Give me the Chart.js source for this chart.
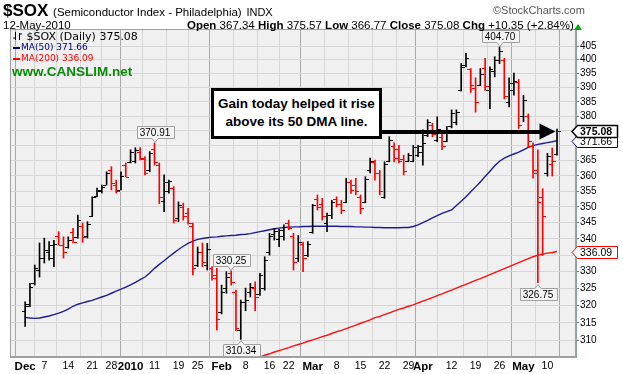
<!DOCTYPE html>
<html>
<head>
<meta charset="utf-8">
<title>$SOX daily</title>
<script src="https://cdn.jsdelivr.net/npm/chart.js@4.4.1/dist/chart.umd.min.js"></script>
<style>
  body { margin: 0; background: #fff; }
  #wrap { position: relative; width: 623px; height: 374px; overflow: hidden; font-family: "Liberation Sans", Arial, sans-serif; color: #000; }
  #chart { position: absolute; left: 0; top: 0; }
  .lbl { position: absolute; white-space: nowrap; line-height: 1; }
  #sym { left: 3px; top: 2px; font-size: 17px; font-weight: bold; }
  #sym .sub { font-size: 11.5px; font-weight: normal; }
  #copy { left: 493px; top: 5px; font-size: 11px; color: #555; }
  #date { left: 3px; top: 20px; font-size: 11.5px; }
  #quote { left: 187px; top: 20px; font-size: 11.5px; }
  #up { position: absolute; left: 574px; top: 24px; width: 0; height: 0; border-left: 4px solid transparent; border-right: 4px solid transparent; border-bottom: 6px solid #00b000; }
  .leg { left: 13px; font-family: "DejaVu Sans", Verdana, sans-serif; font-size: 9px; }
  .dash { display: inline-block; width: 7px; height: 2px; vertical-align: middle; margin-right: 1px; }
  #site { left: 12px; top: 65px; font-size: 13.5px; font-weight: bold; color: #0a8a0a; }
  #note { position: absolute; left: 211px; top: 88px; width: 165px; height: 45px; border: 3px solid #000; background: #fff;
          font-weight: bold; font-size: 13.5px; text-align: center; line-height: 18px; padding-top: 0; box-sizing: content-box; }
  #note div { padding-top: 4px; }
</style>
</head>
<body>
<div id="wrap">
  <canvas id="chart" width="623" height="374"></canvas>
  <div class="lbl" id="sym">$SOX <span class="sub">(Semiconductor Index - Philadelphia)</span> <span class="sub" style="font-size:11px">INDX</span></div>
  <div class="lbl" id="copy">&copy;StockCharts.com</div>
  <div class="lbl" id="date">12-May-2010</div>
  <div class="lbl" id="quote"></div>
  <div id="up"></div>
  <div class="lbl leg" id="leg1" style="top:31px;font-size:11px"><svg width="10" height="10" style="vertical-align:-1px"><path d="M2.5 1v8M0 7h2.5M6.5 2v7M6.5 3h2.5" stroke="#000" fill="none"/></svg> <span id="leg1t"></span></div>
  <div class="lbl leg" id="leg2" style="top:43px;color:#000080"><span class="dash" style="background:#000080"></span><span id="leg2t"></span></div>
  <div class="lbl leg" id="leg3" style="top:54px;color:#ff0000"><span class="dash" style="background:#ff0000"></span><span id="leg3t"></span></div>
  <div class="lbl" id="site">www.CANSLIM.net</div>
  <div id="note"><div>Gain today helped it rise<br>above its 50 DMA line.</div></div>
</div>
<script>
// trading days shown on the chart
var dates = [
  '2009-12-01','2009-12-02','2009-12-03','2009-12-04','2009-12-07','2009-12-08','2009-12-09','2009-12-10','2009-12-11',
  '2009-12-14','2009-12-15','2009-12-16','2009-12-17','2009-12-18','2009-12-21','2009-12-22','2009-12-23','2009-12-24',
  '2009-12-28','2009-12-29','2009-12-30','2009-12-31',
  '2010-01-04','2010-01-05','2010-01-06','2010-01-07','2010-01-08','2010-01-11','2010-01-12','2010-01-13','2010-01-14',
  '2010-01-15','2010-01-19','2010-01-20','2010-01-21','2010-01-22','2010-01-25','2010-01-26','2010-01-27','2010-01-28','2010-01-29',
  '2010-02-01','2010-02-02','2010-02-03','2010-02-04','2010-02-05','2010-02-08','2010-02-09','2010-02-10','2010-02-11','2010-02-12',
  '2010-02-16','2010-02-17','2010-02-18','2010-02-19','2010-02-22','2010-02-23','2010-02-24','2010-02-25','2010-02-26',
  '2010-03-01','2010-03-02','2010-03-03','2010-03-04','2010-03-05','2010-03-08','2010-03-09','2010-03-10','2010-03-11','2010-03-12',
  '2010-03-15','2010-03-16','2010-03-17','2010-03-18','2010-03-19','2010-03-22','2010-03-23','2010-03-24','2010-03-25','2010-03-26',
  '2010-03-29','2010-03-30','2010-03-31',
  '2010-04-01','2010-04-05','2010-04-06','2010-04-07','2010-04-08','2010-04-09','2010-04-12','2010-04-13','2010-04-14','2010-04-15',
  '2010-04-16','2010-04-19','2010-04-20','2010-04-21','2010-04-22','2010-04-23','2010-04-26','2010-04-27','2010-04-28','2010-04-29',
  '2010-04-30','2010-05-03','2010-05-04','2010-05-05','2010-05-06','2010-05-07','2010-05-10','2010-05-11','2010-05-12'
]

var opens = [
  318.5,320.5,326.5,330.5,334.0,336.0,334.0,341.0,338.0,337.5,342.0,340.5,344.0,341.0,347.0,353.5,355.0,357.0,
  362.0,357.0,355.5,363.5,
  364.5,365.0,368.0,365.5,362.0,369.0,363.5,352.0,355.0,356.0,346.5,350.0,348.0,344.0,332.0,336.0,332.0,331.0,329.0,
  318.0,325.0,329.5,324.0,313.0,321.0,324.0,325.0,323.5,325.0,336.0,341.5,340.0,341.0,345.0,341.0,334.0,338.5,335.0,
  342.0,352.5,351.0,345.0,347.5,352.5,351.0,351.5,358.0,357.0,353.0,351.5,362.0,364.5,361.0,353.0,365.0,370.0,369.0,365.5,
  364.8,365.0,367.0,
  368.0,373.5,377.0,372.0,373.0,371.5,376.5,378.0,389.0,398.0,396.5,390.0,391.0,397.0,389.0,396.0,400.0,400.0,385.0,389.0,
  392.0,380.0,380.0,370.0,362.0,353.0,361.0,364.0,367.34
]
var highs = [
  321.1,326.5,332.0,338.7,340.2,339.1,339.5,342.2,340.6,340.6,343.2,347.4,344.9,345.3,353.2,356.0,357.0,361.3,
  363.0,358.6,361.3,364.2,
  368.6,369.3,369.3,366.3,368.0,370.91,364.2,360.3,358.6,356.5,351.6,351.2,349.5,344.9,337.5,338.7,338.6,331.5,331.0,
  326.0,330.0,330.25,324.5,321.6,325.1,326.5,327.0,329.5,334.5,341.7,343.2,342.9,344.3,345.8,341.7,341.0,339.0,339.1,
  350.8,353.8,352.7,348.0,352.1,353.2,352.1,359.2,358.6,359.2,353.8,359.7,365.8,365.2,361.8,364.6,373.0,370.9,370.1,366.8,
  367.4,370.1,370.1,
  375.3,378.8,377.6,379.8,374.2,376.5,382.2,382.2,398.6,402.3,396.8,393.5,396.8,400.5,397.4,401.1,404.70,400.5,393.5,395.2,
  392.9,387.3,380.8,370.9,368.6,355.8,367.4,369.2,375.57
]
var lows = [
  314.0,319.7,326.0,328.4,332.6,333.5,331.5,338.1,334.1,337.1,338.7,340.2,338.9,340.2,346.9,353.2,354.4,357.0,
  355.4,354.4,355.4,359.7,
  364.2,364.2,365.2,360.3,361.3,363.5,351.0,348.5,354.4,344.9,345.3,345.8,344.5,329.0,331.5,331.5,330.5,327.5,313.0,
  317.6,323.6,326.0,312.8,310.34,318.5,322.5,318.5,323.0,324.5,335.0,339.6,337.6,339.6,342.8,330.5,333.0,330.0,334.5,
  341.7,349.0,345.8,342.2,346.3,350.0,347.8,351.3,354.3,353.8,347.8,351.3,360.9,358.6,353.8,352.7,364.6,364.6,364.2,360.3,
  364.6,364.6,366.3,
  363.5,373.0,373.0,371.3,368.6,371.3,376.0,377.0,388.8,397.4,388.3,381.4,390.7,389.0,382.6,393.8,398.6,386.0,383.2,387.3,
  375.8,378.1,369.5,359.2,326.75,334.9,359.9,359.9,366.77
]
var closes = [
  320.0,325.5,331.0,334.0,336.5,338.0,338.5,338.2,336.0,339.5,339.0,346.0,340.5,344.5,353.0,355.5,356.5,361.0,
  357.5,355.0,360.0,359.7,
  368.0,368.5,366.0,361.0,367.5,364.5,353.0,358.0,358.2,346.0,350.5,347.0,345.0,331.0,336.0,333.0,337.0,328.0,316.0,
  324.0,328.5,327.0,313.5,321.0,321.5,325.5,322.5,329.0,333.5,341.0,342.5,342.7,343.5,343.2,333.0,339.0,334.0,338.5,
  350.5,350.0,347.0,347.5,351.5,351.0,349.0,358.0,355.5,355.0,349.5,359.0,365.0,361.0,355.0,364.0,372.0,366.0,365.0,361.5,
  367.0,369.5,369.8,
  371.0,378.0,374.0,375.5,370.0,375.0,381.0,381.5,397.5,400.5,391.0,385.0,395.0,390.5,396.5,400.0,403.0,387.0,391.5,392.5,
  377.0,385.5,371.5,361.0,351.5,347.0,366.5,364.73,375.08
]

// moving averages
var ma50 = [
  316.6,316.4,316.3,316.4,316.7,317.0,317.4,317.8,318.3,319.0,319.8,320.4,320.8,321.2,321.5,322.0,322.5,323.0,
  323.6,324.2,324.8,325.4,
  326.1,326.8,327.6,328.4,329.6,331.0,332.2,333.3,334.5,335.6,336.7,337.7,338.6,339.3,339.8,340.1,340.3,340.5,340.6,
  340.8,340.9,341.0,341.1,341.3,341.4,341.6,341.9,342.2,342.5,342.8,343.1,343.3,343.5,343.6,343.7,343.7,343.8,343.8,
  343.9,343.9,343.9,343.9,343.9,343.9,343.8,343.8,343.8,343.7,343.7,343.6,343.6,343.5,343.5,343.4,343.4,343.4,343.4,343.5,
  343.5,343.8,344.3,
  345.0,345.7,346.5,347.2,347.9,348.5,349.0,350.4,351.8,353.2,354.8,356.4,358.0,359.8,361.5,363.3,364.8,365.8,366.6,367.2,
  367.8,368.6,369.4,370.0,370.4,370.7,371.0,371.3,371.66
]
var ma200 = [
  null,null,null,null,null,null,null,null,null,null,null,null,null,null,null,null,null,null,
  null,null,null,null,
  null,null,null,null,null,null,null,null,null,null,null,null,null,null,null,null,null,null,null,
  null,null,null,null,null,304.2,304.6,305.0,305.4,305.9,306.3,306.8,307.2,307.6,308.0,308.5,308.9,309.3,309.8,
  310.2,310.6,311.1,311.5,312.0,312.5,312.9,313.4,313.9,314.4,314.9,315.4,315.9,316.5,316.9,317.4,317.9,318.4,318.9,319.3,
  319.8,320.2,320.8,
  321.3,321.8,322.3,322.9,323.4,324.0,324.5,325.1,325.7,326.2,326.8,327.4,327.9,328.5,329.1,329.7,330.3,330.9,331.5,332.1,
  332.7,333.3,333.9,334.5,335.0,335.3,335.6,335.8,336.09
]

var tickDates = ['2009-12-01','2009-12-07','2009-12-14','2009-12-21','2009-12-28','2010-01-04','2010-01-11','2010-01-19',
  '2010-01-25','2010-02-01','2010-02-08','2010-02-16','2010-02-22','2010-03-01','2010-03-08','2010-03-15','2010-03-22',
  '2010-03-29','2010-04-01','2010-04-12','2010-04-19','2010-04-26','2010-05-03','2010-05-10']
var tickLabels = ['Dec','7','14','21','28','2010','11','19','25','Feb','8','16','22','Mar','8','15','22','29','Apr','12','19','26','May','10']
var yTicks = [310,315,320,325,330,335,340,345,350,355,360,365,370,375,380,385,390,395,400,405]

var peakDays = ['2010-01-11','2010-02-03','2010-04-26']
var lowDays = ['2010-02-05','2010-05-06']

var last = closes.length - 1

function barColor(i) {
    return (i === 0 || closes[i] >= closes[i - 1]) ? '#000000' : '#ff0000'
}
function isMonthTick(i) {
    return isNaN(Number(tickLabels[i])) || tickLabels[i].length === 4
}

// header and legend texts from the data
var chg = closes[last] - closes[last - 1]
var pct = chg / closes[last - 1] * 100
document.getElementById('quote').innerHTML =
    '<b>Open</b> ' + opens[last].toFixed(2) + ' <b>High</b> ' + highs[last].toFixed(2) +
    ' <b>Low</b> ' + lows[last].toFixed(2) + ' <b>Close</b> ' + closes[last].toFixed(2) +
    ' <b>Chg</b> +' + chg.toFixed(2) + ' (+' + pct.toFixed(2) + '%)'
document.getElementById('leg1t').textContent = '$SOX (Daily) ' + closes[last].toFixed(2)
document.getElementById('leg2t').textContent = 'MA(50) ' + ma50[last].toFixed(2)
document.getElementById('leg3t').textContent = 'MA(200) ' + ma200[last].toFixed(2)

var plotFrame = {
    id: 'plotFrame',
    beforeDraw: function(chart) {
        var a = chart.chartArea, c = chart.ctx
        c.save()
        c.fillStyle = '#f0f0f0'
        c.fillRect(a.left, a.top, a.right - a.left, a.bottom - a.top)
        c.restore()
    },
    afterDatasetsDraw: function(chart) {
        // open / close ticks of each bar
        var c = chart.ctx, x = chart.scales.x, y = chart.scales.y
        c.save()
        c.lineWidth = 1
        for (var i = 0; i < closes.length; i++) {
            var px = Math.round(x.getPixelForValue(i) - 0.5)
            var yo = Math.round(y.getPixelForValue(opens[i])) + 0.5
            var yc = Math.round(y.getPixelForValue(closes[i])) + 0.5
            c.strokeStyle = barColor(i)
            c.beginPath()
            c.moveTo(px - 3, yo); c.lineTo(px, yo)
            c.moveTo(px + 1, yc); c.lineTo(px + 4, yc)
            c.stroke()
        }
        c.restore()
    },
    afterDraw: function(chart) {
        var a = chart.chartArea, c = chart.ctx, x = chart.scales.x, y = chart.scales.y
        c.save()
        c.strokeStyle = '#a0a0a0'
        c.lineWidth = 1
        c.strokeRect(a.left + 0.5, a.top + 0.5, a.right - a.left - 1, a.bottom - a.top - 1)

        // arrow from the note to today's close
        var note = document.getElementById('note')
        var startX = note.offsetLeft + note.offsetWidth
        var ay = y.getPixelForValue(closes[last])
        var tip = x.getPixelForValue(last) - 1.5
        c.fillStyle = '#000'
        c.fillRect(startX, Math.round(ay) - 1, tip - 15 - startX, 4)
        c.beginPath()
        c.moveTo(tip, ay + 1)
        c.lineTo(tip - 16, ay - 7)
        c.lineTo(tip - 16, ay + 9)
        c.closePath()
        c.fill()

        // high / low value flags
        c.font = '10px "Liberation Sans", Arial'
        c.textAlign = 'center'
        c.textBaseline = 'middle'
        function flag(i, above) {
            var v = above ? highs[i] : lows[i]
            var px = Math.round(x.getPixelForValue(i))
            var py = y.getPixelForValue(v)
            var txt = v.toFixed(2)
            var w = Math.ceil(c.measureText(txt).width) + 6, h = 12
            var bx = Math.round(px - w / 2) + 0.5
            var by = above ? Math.round(py - 5 - h) + 0.5 : Math.round(py + 5) + 0.5
            c.beginPath()
            if (above) {
                c.moveTo(bx, by); c.lineTo(bx + w, by); c.lineTo(bx + w, by + h)
                c.lineTo(px + 3, by + h); c.lineTo(px, by + h + 4); c.lineTo(px - 3, by + h); c.lineTo(bx, by + h)
            } else {
                c.moveTo(bx, by); c.lineTo(px - 3, by); c.lineTo(px, by - 4); c.lineTo(px + 3, by)
                c.lineTo(bx + w, by); c.lineTo(bx + w, by + h); c.lineTo(bx, by + h)
            }
            c.closePath()
            c.fillStyle = '#f4f4f4'
            c.fill()
            c.strokeStyle = '#a0a0a0'
            c.stroke()
            c.fillStyle = '#000'
            c.fillText(txt, px, by + h / 2 + 0.5)
        }
        peakDays.forEach(function(d) { flag(dates.indexOf(d), true) })
        lowDays.forEach(function(d) { flag(dates.indexOf(d), false) })

        // last value tags on the right axis
        c.textAlign = 'left'
        function tag(v, color, bold) {
            var py = Math.round(y.getPixelForValue(v)) + 0.5
            var x0 = a.right - 4, bx = a.right + 1.5, bw = 40, h = 12
            c.beginPath()
            c.moveTo(x0, py); c.lineTo(bx, py - h / 2); c.lineTo(bx + bw, py - h / 2)
            c.lineTo(bx + bw, py + h / 2); c.lineTo(bx, py + h / 2); c.closePath()
            c.fillStyle = '#fff'
            c.fill()
            c.lineWidth = bold ? 1.5 : 1
            c.strokeStyle = color
            c.stroke()
            c.fillStyle = '#000'
            c.font = (bold ? 'bold ' : '') + '10.5px "Liberation Sans", Arial'
            c.fillText(v.toFixed(2), bx + 2.5, py + 0.5)
        }
        tag(ma200[last], '#ff0000', false)
        tag(ma50[last], '#000080', false)
        tag(closes[last], '#000000', true)
        c.restore()
    }
}

var ctx = document.getElementById('chart').getContext('2d')
var chart = new Chart(ctx, {
    type: 'bar',
    data: {
        datasets: [{
            label: '$SOX',
            order: 0,
            data: lows.map(function(l, i) { return {x: i, y: [l, highs[i]]} }),
            backgroundColor: function(c) { return barColor(c.dataIndex) },
            barThickness: 1,
            grouped: false
        }, {
            type: 'line',
            label: 'MA(50)',
            order: 1,
            data: ma50.map(function(v, i) { return {x: i, y: v} }),
            borderColor: '#1c1c96',
            borderWidth: 1.4,
            pointRadius: 0,
            tension: 0
        }, {
            type: 'line',
            label: 'MA(200)',
            order: 2,
            data: ma200.map(function(v, i) { return {x: i, y: v} }),
            borderColor: '#ff1010',
            borderWidth: 1.4,
            pointRadius: 0,
            tension: 0,
            spanGaps: false
        }]
    },
    options: {
        responsive: false,
        animation: false,
        events: [],
        layout: { padding: { left: 10, top: 29, right: 0, bottom: 0 } },
        plugins: {
            legend: { display: false },
            tooltip: { enabled: false },
            title: { display: false }
        },
        scales: {
            x: {
                type: 'linear',
                min: -0.7,
                max: 112.5,
                afterBuildTicks: function(s) {
                    s.ticks = tickDates.map(function(d) { return {value: dates.indexOf(d)} })
                },
                afterFit: function(s) { s.height = 17 },
                ticks: {
                    autoSkip: false,
                    maxRotation: 0,
                    padding: 3,
                    color: '#000',
                    font: function(c) {
                        return isMonthTick(c.index)
                            ? {family: '"Liberation Sans", Arial', size: 11.5, weight: 'bold'}
                            : {family: '"Liberation Sans", Arial', size: 10.5}
                    },
                    callback: function(v, i) { return tickLabels[i] }
                },
                grid: {
                    drawTicks: false,
                    color: function(c) { return isMonthTick(c.index) ? '#a8a8a8' : '#d6d6d6' }
                },
                border: { color: '#a0a0a0' }
            },
            y: {
                type: 'logarithmic',
                position: 'right',
                min: 305.41,
                max: 411.3,
                afterBuildTicks: function(s) {
                    s.ticks = yTicks.map(function(v) { return {value: v} })
                },
                afterFit: function(s) { s.width = 47 },
                ticks: {
                    color: '#000',
                    padding: 1,
                    font: {family: '"Liberation Sans", Arial', size: 10},
                    callback: function(v) { return String(v) }
                },
                grid: { color: '#d6d6d6', tickLength: 3, tickColor: '#777' },
                border: { color: '#8fa0a0' }
            }
        }
    },
    plugins: [plotFrame]
})
</script>
</body>
</html>
